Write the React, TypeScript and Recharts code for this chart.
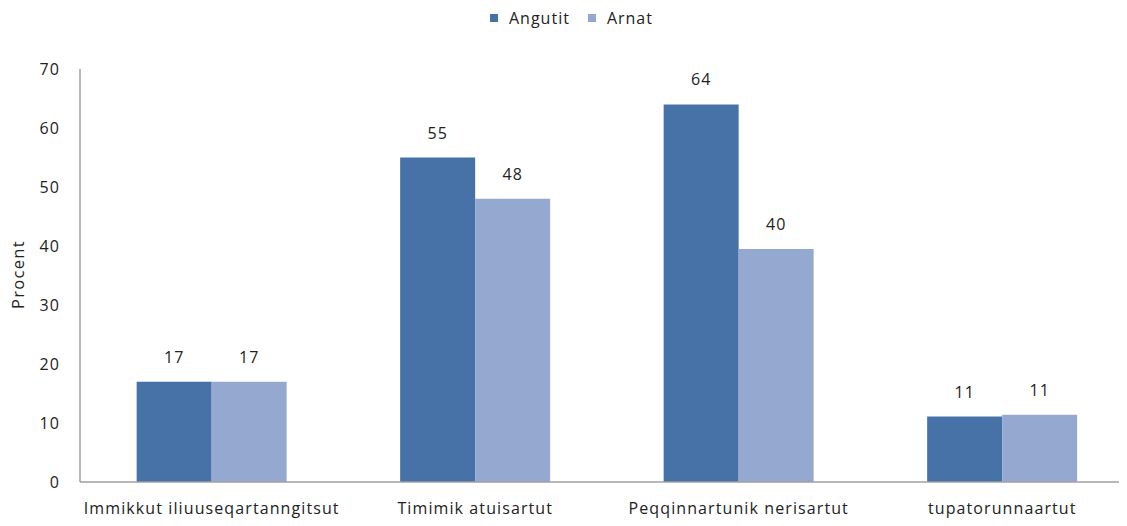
import React from "react";
import {
  BarChart,
  Bar,
  XAxis,
  YAxis,
  LabelList,
} from "recharts";

// categories and series values
const categories = [
  "Immikkut iliuuseqartanngitsut",
  "Timimik atuisartut",
  "Peqqinnartunik nerisartut",
  "tupatorunnaartut",
];
const angutit = [17, 55, 64, 11.1];
const arnat = [17, 48, 39.5, 11.4];
const yTicks = [0, 10, 20, 30, 40, 50, 60, 70];

const COLORS = {
  Angutit: "#4672A8",
  Arnat: "#95A9D0",
};

const FONT = "'Open Sans', sans-serif";
const TEXT = { fill: "#222", fontSize: 16, fontFamily: FONT, letterSpacing: 1.1 };

const data = categories.map((name, i) => ({
  name,
  Angutit: angutit[i],
  Arnat: arnat[i],
}));

const roundLabel = (v: any) => Math.round(Number(v));

export default function App() {
  return (
    <div style={{ width: 1119, height: 518, overflow: "hidden", position: "relative" }}>
      {/* legend on top, drawn by hand */}
      <div
        style={{
          position: "absolute",
          top: 0,
          left: 482,
          display: "flex",
          alignItems: "center",
          gap: 18,
          fontFamily: FONT,
          fontSize: 16,
          letterSpacing: 1,
          color: "#222",
          height: 20,
        }}
      >
        {Object.entries(COLORS).map(([name, color]) => (
          <div key={name} style={{ display: "flex", alignItems: "center", gap: 11 }}>
            <div style={{ width: 8, height: 8, background: color }} />
            <span>{name}</span>
          </div>
        ))}
      </div>
      {/* y axis title, vertical text reading bottom to top */}
      <div
        style={{
          position: "absolute",
          left: 0,
          top: 232,
          width: 20,
          height: 70,
          writingMode: "vertical-rl",
          transform: "rotate(180deg)",
          fontFamily: FONT,
          fontSize: 16.5,
          letterSpacing: 1.3,
          lineHeight: "20px",
          color: "#222",
          whiteSpace: "nowrap",
          textAlign: "center",
        }}
      >
        Procent
      </div>
      <BarChart
        width={1126}
        height={518}
        data={data}
        margin={{ top: 61, right: 0, left: 0, bottom: 14 }}
        barCategoryGap="21.5%"
        barGap={0}
      >
        <XAxis
          dataKey="name"
          axisLine={{ stroke: "#A0A0A0", strokeWidth: 1.5 }}
          tickLine={false}
          tickSize={0}
          tickMargin={21}
          height={30}
          interval={0}
          tick={TEXT}
        />
        <YAxis
          domain={[0, 70]}
          ticks={yTicks}
          width={72}
          axisLine={{ stroke: "#A0A0A0", strokeWidth: 1.5 }}
          tickLine={false}
          tickSize={0}
          tickMargin={20}
          tick={TEXT}
        />
        <Bar dataKey="Angutit" fill={COLORS.Angutit} isAnimationActive={false}>
          <LabelList
            dataKey="Angutit"
            position="top"
            offset={19}
            formatter={roundLabel}
            style={TEXT}
          />
        </Bar>
        <Bar dataKey="Arnat" fill={COLORS.Arnat} isAnimationActive={false}>
          <LabelList
            dataKey="Arnat"
            position="top"
            offset={19}
            formatter={roundLabel}
            style={TEXT}
          />
        </Bar>
      </BarChart>
    </div>
  );
}
